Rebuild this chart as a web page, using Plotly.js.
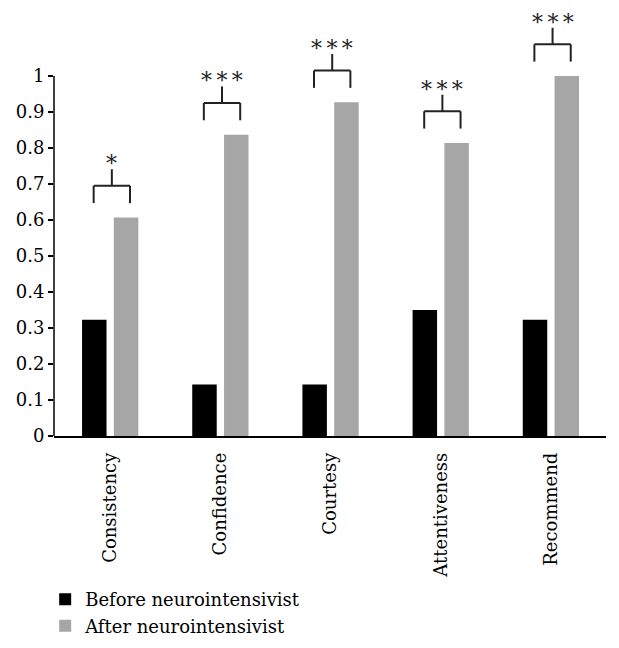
<!DOCTYPE html>
<html>
<head>
<meta charset="utf-8">
<script src="https://cdn.plot.ly/plotly-3.0.1.min.js"></script>
<style>html,body{margin:0;padding:0;background:#fff;}#chart{width:619px;height:648px;}</style>
</head>
<body>
<div id="chart"></div>
<script>
const categories = ["Consistency", "Confidence", "Courtesy", "Attentiveness", "Recommend"];
const beforeValues = [0.323, 0.143, 0.143, 0.350, 0.323];
const afterValues = [0.607, 0.837, 0.927, 0.814, 1.0];
const significance = ["*", "*\u2009*\u2009*", "*\u2009*\u2009*", "*\u2009*\u2009*", "*\u2009*\u2009*"];
const yTicks = [0, 0.1, 0.2, 0.3, 0.4, 0.5, 0.6, 0.7, 0.8, 0.9, 1];
const yTickLabels = ["0", "0.1", "0.2", "0.3", "0.4", "0.5", "0.6", "0.7", "0.8", "0.9", "1"];

const FONT = "DejaVu Serif";

const traces = [
  { type: "bar", name: "Before neurointensivist", x: categories, y: beforeValues,
    marker: { color: "#000000" }, hoverinfo: "skip" },
  { type: "bar", name: "After neurointensivist", x: categories, y: afterValues,
    marker: { color: "#a6a6a6" }, hoverinfo: "skip" }
];

const shapes = [];
const annotations = [];
const lineStyle = { color: "#222222", width: 2 };
categories.forEach((c, i) => {
  const base = afterValues[i];
  const legB = base + 0.04, top = base + 0.088, stem = base + 0.134;
  const xl = i - 0.15, xr = i + 0.18, xm = (xl + xr) / 2;
  shapes.push({ type: "line", xref: "x", yref: "y", x0: xl, x1: xl, y0: legB, y1: top, line: lineStyle });
  shapes.push({ type: "line", xref: "x", yref: "y", x0: xr, x1: xr, y0: legB, y1: top, line: lineStyle });
  shapes.push({ type: "line", xref: "x", yref: "y", x0: xl, x1: xr, y0: top, y1: top, line: lineStyle });
  shapes.push({ type: "line", xref: "x", yref: "y", x0: xm, x1: xm, y0: top, y1: stem, line: lineStyle });
  annotations.push({ xref: "x", yref: "y", x: xm, y: stem, text: significance[i], showarrow: false,
    yanchor: "bottom", xanchor: "center", yshift: -9, font: { family: FONT, size: 22, color: "#222" } });
});
// y axis line from 0 to 1
shapes.push({ type: "line", xref: "paper", yref: "y", x0: 0, x1: 0, y0: 0, y1: 1, line: { color: "#000", width: 1.5 } });

const layout = {
  width: 619, height: 648,
  margin: { l: 54, r: 13, t: 4, b: 210 },
  paper_bgcolor: "#fff", plot_bgcolor: "#fff",
  font: { family: FONT, size: 18, color: "#000" },
  barmode: "group", bargap: 0.423, bargroupgap: 0.23,
  showlegend: true,
  legend: { x: -0.016, y: -0.336, xanchor: "left", yanchor: "top", bgcolor: "rgba(0,0,0,0)",
    font: { family: FONT, size: 18, color: "#000" } },
  xaxis: { type: "category", range: [-0.51, 4.5], showline: true, linecolor: "#000", linewidth: 1.5,
    ticks: "", tickangle: -90, showgrid: false, zeroline: false, fixedrange: true,
    ticklabelstandoff: 8,
    tickfont: { family: FONT, size: 18, color: "#000" } },
  yaxis: { range: [0, 1.2], showline: false, showgrid: false, zeroline: false,
    tickmode: "array", tickvals: yTicks, ticktext: yTickLabels,
    ticks: "outside", ticklen: 5, tickwidth: 1.5, tickcolor: "#000", fixedrange: true,
    tickfont: { family: FONT, size: 18, color: "#000" } },
  shapes: shapes, annotations: annotations
};

Plotly.newPlot("chart", traces, layout, { displayModeBar: false, staticPlot: true });
</script>
</body>
</html>
